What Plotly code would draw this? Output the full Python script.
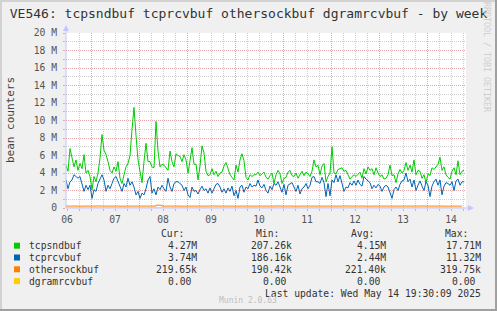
import pandas as pd
import plotly.graph_objects as go

# ---------------- data ----------------
title_text = "VE546: tcpsndbuf tcprcvbuf othersockbuf dgramrcvbuf - by week"
series_names = ["tcpsndbuf", "tcprcvbuf", "othersockbuf", "dgramrcvbuf"]
series_colors = ["#00CC00", "#0066B3", "#FF8000", "#FFCC00"]
cur_vals = ["4.27M", "3.74M", "219.65k", "0.00\u00a0"]
min_vals = ["207.26k", "186.16k", "190.42k", "0.00\u00a0"]
avg_vals = ["4.15M", "2.44M", "221.40k", "0.00\u00a0"]
max_vals = ["17.71M", "11.32M", "319.75k", "0.00\u00a0"]
col_headers = ["Cur:", "Min:", "Avg:", "Max:"]
day_labels = ["06", "07", "08", "09", "10", "11", "12", "13", "14"]
y_tick_values = [0, 2, 4, 6, 8, 10, 12, 14, 16, 18, 20]
y_tick_labels = ["0", "2 M", "4 M", "6 M", "8 M", "10 M", "12 M", "14 M", "16 M", "18 M", "20 M"]
last_update = "Last update: Wed May 14 19:30:09 2025"
munin_version = "Munin 2.0.63"
watermark = "RRDTOOL / TOBI OETIKER"
y_title = "bean counters"

# hourly samples, values in millions
tcpsndbuf = [
    4.9, 4.2, 6.8, 5.9, 4.7, 5.5, 4.3, 5.1, 4.5, 6.1, 4.0, 4.3, 3.6, 2.1, 3.6, 3.0,
    4.0, 5.7, 8.4, 6.6, 6.1, 5.3, 4.3, 4.0, 4.7, 4.2, 5.3, 3.4, 2.8, 3.8, 4.7, 5.1,
    6.0, 9.0, 11.5, 8.3, 5.5, 4.2, 2.9, 5.3, 7.4, 5.3, 5.3, 4.7, 4.6, 9.9, 6.5, 4.7,
    5.0, 4.9, 4.6, 4.3, 6.5, 5.3, 4.7, 6.2, 6.0, 5.9, 5.3, 6.1, 5.5, 4.0, 5.4, 6.9, 5.0,
    5.0, 3.2, 4.8, 7.1, 6.3, 4.2, 3.7, 3.8, 4.5, 3.8, 4.2, 3.6, 4.0, 4.1, 4.8, 5.2,
    4.6, 3.8, 3.5, 3.2, 4.9, 4.1, 5.5, 6.2, 5.4, 3.5, 3.2, 3.8, 3.6, 3.8, 3.8, 4.1, 3.7,
    3.9, 4.1, 3.5, 3.3, 3.7, 4.0, 2.8, 3.8, 4.3, 3.9, 2.8, 3.4, 3.5, 4.1, 4.3, 3.7,
    3.6, 4.0, 3.4, 3.8, 4.2, 3.7, 4.1, 3.9, 3.6, 4.2, 5.5, 4.7, 4.9, 3.8, 4.8, 5.1, 3.0,
    3.6, 4.0, 7.0, 4.0, 3.9, 4.4, 4.5, 4.6, 4.2, 4.3, 3.8, 3.3, 3.6, 3.8, 3.6, 3.8,
    4.1, 3.4, 4.5, 3.9, 4.7, 4.3, 4.5, 3.8, 4.6, 4.0, 3.6, 3.8, 3.3, 3.4, 3.8, 4.9, 3.7,
    3.8, 2.9, 3.9, 4.4, 4.0, 4.3, 5.2, 4.3, 4.9, 4.1, 5.5, 3.8, 4.3, 4.2, 3.4, 3.8,
    2.9, 3.9, 3.7, 4.6, 4.4, 4.7, 5.0, 5.8, 4.3, 4.7, 3.8, 3.5, 3.3, 4.2, 4.6, 3.8,
    5.4, 3.8, 4.2, 4.3,
]
tcprcvbuf = [
    3.2, 2.2, 3.0, 3.2, 3.8, 3.6, 3.4, 3.6, 2.8, 1.9, 2.6, 2.1, 2.6, 1.1, 2.1, 1.9,
    2.8, 3.4, 3.8, 3.2, 1.9, 2.6, 2.2, 2.8, 3.4, 3.6, 3.0, 2.4, 1.9, 2.8, 2.4, 3.4,
    2.6, 3.0, 2.4, 1.5, 1.9, 1.1, 1.7, 1.5, 2.2, 3.2, 3.6, 1.7, 2.2, 1.5, 2.4, 2.1,
    2.6, 2.2, 1.9, 3.4, 2.4, 1.9, 2.8, 3.0, 3.0, 2.8, 2.6, 2.0, 2.4, 1.5, 1.2, 2.4, 1.9,
    2.0, 1.6, 2.1, 2.5, 2.0, 2.2, 1.7, 2.3, 1.7, 2.3, 2.7, 2.8, 2.4, 1.8, 2.2, 1.7,
    2.3, 1.9, 2.5, 1.4, 2.0, 1.1, 2.4, 2.6, 1.8, 2.4, 2.2, 2.8, 2.4, 2.6, 2.5, 3.2, 2.5,
    2.3, 2.7, 2.0, 1.7, 2.5, 2.1, 2.8, 2.6, 3.0, 2.4, 1.8, 2.7, 1.5, 2.6, 2.8, 2.9,
    2.4, 1.9, 2.6, 1.6, 2.2, 2.4, 2.8, 2.2, 2.6, 3.5, 3.6, 3.0, 3.0, 2.8, 3.5, 2.9, 1.3,
    2.8, 1.4, 3.2, 2.9, 3.8, 3.0, 3.7, 2.8, 1.9, 2.4, 2.3, 2.9, 2.6, 3.1, 2.6, 3.2,
    2.7, 2.5, 3.6, 3.3, 3.1, 2.9, 2.2, 2.6, 2.3, 2.7, 2.5, 1.9, 2.4, 2.6, 2.4, 1.6, 1.1,
    2.1, 2.4, 2.0, 2.7, 3.1, 3.2, 4.0, 3.0, 3.3, 2.4, 3.2, 2.0, 2.6, 3.1, 2.5, 2.0,
    3.0, 2.6, 1.3, 2.5, 3.0, 3.3, 2.6, 3.2, 1.5, 2.5, 2.9, 2.8, 2.6, 3.0, 2.0, 3.1,
    3.3, 2.6, 3.0, 3.0,
]
# 3-hourly samples, millions
othersockbuf = [
    0.22, 0.22, 0.21, 0.22, 0.22, 0.23, 0.22, 0.22, 0.22, 0.21, 0.22, 0.22, 0.22, 0.22,
    0.22, 0.32, 0.22, 0.22, 0.22, 0.21, 0.22, 0.22, 0.22, 0.22, 0.23, 0.22, 0.22, 0.22,
    0.21, 0.22, 0.22, 0.22, 0.22, 0.22, 0.22, 0.23, 0.22, 0.22, 0.21, 0.22, 0.22, 0.22,
    0.22, 0.22, 0.22, 0.22, 0.23, 0.22, 0.22, 0.22, 0.21, 0.22, 0.22, 0.22, 0.22, 0.22,
    0.22, 0.22, 0.22, 0.23, 0.22, 0.22, 0.22, 0.21, 0.22, 0.22, 0.22,
]
# 18-hourly samples
dgramrcvbuf = [0.0, 0.0, 0.0, 0.0, 0.0, 0.0, 0.0, 0.0, 0.0, 0.0, 0.0, 0.0]

series_start = "2025-05-06 11:30"
range_start = "2025-05-06 11:30"
range_end = "2025-05-14 19:30"

t_hourly = pd.date_range(series_start, periods=len(tcpsndbuf), freq="1h")
t_3h = pd.date_range(series_start, periods=len(othersockbuf), freq="3h")
t_18h = pd.date_range(series_start, periods=len(dgramrcvbuf), freq="18h")
midnights = pd.date_range("2025-05-07", periods=len(day_labels) - 1, freq="D")
noons = pd.date_range("2025-05-06 12:00", periods=len(day_labels), freq="D")

# ---------------- layout geometry (pixels) ----------------
W, H = 497, 311
PL, PR, PT, PB = 66, 466, 33, 208


def fx(px):
    return (px - PL) / (PR - PL)


def fy(py):
    return (PB - py) / (PB - PT)


MONO = "DejaVu Sans Mono"
TXT = "#333333"
MAJ = "#E3A9A9"
MINC = "#CFCFCF"
AXC = "#C4C4FF"
DASH = "1px,1px"

fig = go.Figure()
fig.add_trace(go.Scatter(x=t_hourly, y=tcpsndbuf, mode="lines",
                         line=dict(color=series_colors[0], width=1), name=series_names[0]))
fig.add_trace(go.Scatter(x=t_hourly, y=tcprcvbuf, mode="lines",
                         line=dict(color=series_colors[1], width=1), name=series_names[1]))
fig.add_trace(go.Scatter(x=t_3h, y=othersockbuf, mode="lines",
                         line=dict(color=series_colors[2], width=1, shape="hv"), name=series_names[2]))
fig.add_trace(go.Scatter(x=t_18h, y=dgramrcvbuf, mode="lines", xaxis="x2",
                         line=dict(color=series_colors[3], width=1), name=series_names[3]))

shapes = []
# axis lines with arrows
shapes.append(dict(type="line", xref="paper", yref="paper", x0=0, x1=0, y0=0, y1=fy(29),
                   line=dict(color=AXC, width=1), layer="above"))
shapes.append(dict(type="path", xref="paper", yref="paper",
                   path=f"M {fx(63)},{fy(31)} L {fx(69)},{fy(31)} L {fx(66)},{fy(25)} Z",
                   fillcolor=AXC, line=dict(width=0), layer="above"))
shapes.append(dict(type="line", xref="paper", yref="paper", x0=0, x1=fx(470), y0=0, y1=0,
                   line=dict(color=AXC, width=1), layer="below"))
shapes.append(dict(type="path", xref="paper", yref="paper",
                   path=f"M {fx(468)},{fy(205)} L {fx(468)},{fy(211)} L {fx(474)},{fy(208)} Z",
                   fillcolor=AXC, line=dict(width=0), layer="above"))
# image frame (3D border)
shapes.append(dict(type="rect", xref="paper", yref="paper", x0=fx(0), x1=fx(W), y0=fy(0), y1=fy(2),
                   fillcolor="#D2D2D2", line=dict(width=0)))
shapes.append(dict(type="rect", xref="paper", yref="paper", x0=fx(0), x1=fx(2), y0=fy(0), y1=fy(H),
                   fillcolor="#D2D2D2", line=dict(width=0)))
shapes.append(dict(type="rect", xref="paper", yref="paper", x0=fx(0), x1=fx(W), y0=fy(H - 2), y1=fy(H),
                   fillcolor="#A0A0A0", line=dict(width=0)))
shapes.append(dict(type="rect", xref="paper", yref="paper", x0=fx(W - 2), x1=fx(W), y0=fy(0), y1=fy(H),
                   fillcolor="#A0A0A0", line=dict(width=0)))

annotations = []
row_y = [245.7, 257.5, 269.3, 281.1]
header_y = 233.5
value_right = [198.8, 293.8, 388.0, 482.5]
header_right = [185.5, 280.5, 375.5, 469.8]
columns = [cur_vals, min_vals, avg_vals, max_vals]

for j, h in enumerate(col_headers):
    annotations.append(dict(x=fx(header_right[j]), y=fy(header_y), xref="paper", yref="paper",
                            text=h, showarrow=False, xanchor="right", yanchor="middle",
                            font=dict(family=MONO, size=9.7, color=TXT)))
for i, name in enumerate(series_names):
    shapes.append(dict(type="rect", xref="paper", yref="paper",
                       x0=fx(14), x1=fx(20), y0=fy(row_y[i] - 3), y1=fy(row_y[i] + 3),
                       fillcolor=series_colors[i], line=dict(width=0)))
    annotations.append(dict(x=fx(26.5), y=fy(row_y[i]), xref="paper", yref="paper",
                            text=name, showarrow=False, xanchor="left", yanchor="middle",
                            font=dict(family=MONO, size=9.7, color=TXT)))
    for j, col in enumerate(columns):
        annotations.append(dict(x=fx(value_right[j]), y=fy(row_y[i]), xref="paper", yref="paper",
                                text=col[i], showarrow=False, xanchor="right", yanchor="middle",
                                font=dict(family=MONO, size=9.7, color=TXT)))

annotations.append(dict(x=fx(482.8), y=fy(293.3), xref="paper", yref="paper",
                        text=last_update, showarrow=False, xanchor="right", yanchor="middle",
                        font=dict(family=MONO, size=9.7, color=TXT)))
annotations.append(dict(x=fx(247.5), y=fy(300.8), xref="paper", yref="paper",
                        text=munin_version, showarrow=False, xanchor="center", yanchor="middle",
                        font=dict(family=MONO, size=8.0, color="#BEBEBE")))
annotations.append(dict(x=fx(487), y=fy(114), xref="paper", yref="paper",
                        text=watermark, showarrow=False, xanchor="center", yanchor="bottom",
                        textangle=90, font=dict(family=MONO, size=8.3, color="#CFCFCF")))
annotations.append(dict(x=fx(10), y=fy(120), xref="paper", yref="paper",
                        text=y_title, showarrow=False, xanchor="center", yanchor="middle",
                        textangle=-90, font=dict(family=MONO, size=11, color="#444444")))

fig.update_layout(
    width=W, height=H, autosize=False,
    margin=dict(l=PL, r=W - PR, t=PT, b=H - PB, pad=0),
    paper_bgcolor="#F0F0F0", plot_bgcolor="#FFFFFF",
    showlegend=False,
    title=dict(text=title_text, x=0.5, xanchor="center", xref="container",
               y=1 - 13.5 / H, yanchor="middle", yref="container",
               font=dict(family=MONO, size=13, color=TXT)),
    xaxis=dict(type="date", range=[range_start, range_end], fixedrange=True,
               tickmode="array", tickvals=list(midnights), showticklabels=False,
               showgrid=True, gridcolor=MAJ, griddash=DASH, gridwidth=1,
               ticks="outside", ticklen=2, tickcolor=MAJ,
               showline=False, zeroline=False,
               minor=dict(dtick=6 * 3600 * 1000, tick0="2025-05-06 00:00", showgrid=True,
                          gridcolor=MINC, griddash=DASH, gridwidth=1,
                          ticks="outside", ticklen=2, tickcolor="#BBBBBB")),
    xaxis2=dict(type="date", range=[range_start, range_end], overlaying="x", anchor="y",
                side="bottom", fixedrange=True,
                tickmode="array", tickvals=list(noons), ticktext=day_labels,
                showgrid=False, showline=False, zeroline=False, ticks="",
                ticklabelstandoff=4,
                tickfont=dict(family=MONO, size=9.7, color="#555555")),
    yaxis=dict(range=[0, 20], fixedrange=True, tickmode="array",
               tickvals=y_tick_values, ticktext=y_tick_labels,
               showgrid=True, gridcolor=MAJ, griddash=DASH, gridwidth=1,
               ticks="outside", ticklen=2, tickcolor=MAJ, ticklabelstandoff=4,
               showline=False, zeroline=False,
               tickfont=dict(family=MONO, size=9.7, color="#555555"),
               minor=dict(dtick=1, tick0=0, showgrid=True, gridcolor=MINC, griddash=DASH,
                          gridwidth=1, ticks="outside", ticklen=2, tickcolor="#BBBBBB")),
    shapes=shapes,
    annotations=annotations,
)

fig.write_html("out.html")
